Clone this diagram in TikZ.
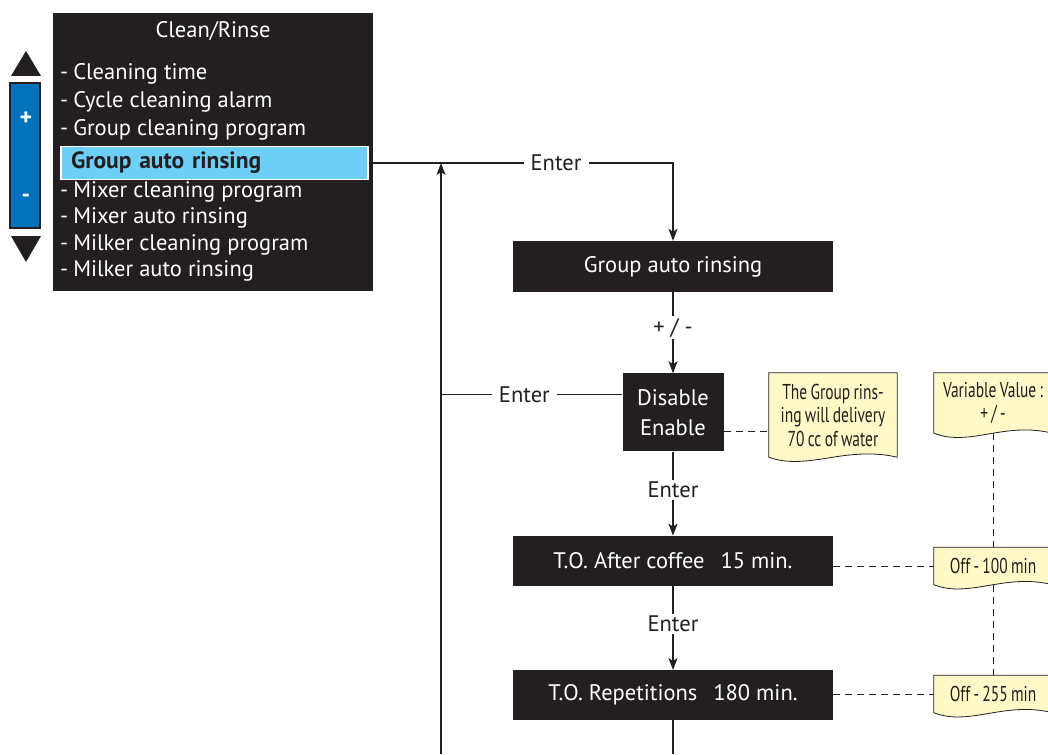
\documentclass[tikz,border=0pt]{standalone}
\usepackage{fontspec}
\setmainfont{PT Sans}
\newfontfamily\notefont{PT Sans}[FakeStretch=0.72, WordSpace=0.8]
\usetikzlibrary{arrows.meta, positioning, calc, backgrounds}
\definecolor{panel}{HTML}{231F20}
\definecolor{barblue}{HTML}{0072BC}
\definecolor{selblue}{HTML}{6DCFF6}
\definecolor{notefill}{HTML}{FFF9C8}

\begin{document}
\begin{tikzpicture}[x=1pt, y=-1pt,
    screen/.style={rectangle, fill=panel, text=white, align=center, inner sep=0pt,
                   font=\fontsize{22.5}{26}\selectfont},
    item/.style={anchor=west, text=white, inner sep=0pt, font=\fontsize{22.5}{26}\selectfont},
    memo/.style={minimum width=118pt, inner sep=0pt, align=center, text=panel,
                 font=\notefont\fontsize{21.5}{23.5}\selectfont},
    lbl/.style={fill=white, inner xsep=7pt, inner ysep=2pt, text=panel,
                font=\fontsize{22.5}{26}\selectfont},
    lnk/.style={panel, line width=1.1pt},
    arr/.style={-{Stealth[length=12pt, width=9pt, inset=3pt]}, panel, line width=1.1pt},
    dsh/.style={panel, line width=0.9pt, dash pattern=on 7pt off 5pt}
  ]
  \useasboundingbox (0,0) rectangle (1048,754);

  % menu screen
  \node[screen, minimum width=320pt, minimum height=278pt] (menu) at (213,152) {};
  \node[screen] (title) at (213,31) {Clean/Rinse};
  \foreach \y/\t [count=\i] in {74/Cleaning time, 102/Cycle cleaning alarm,
      130/Group cleaning program, 192/Mixer cleaning program, 218/Mixer auto rinsing,
      245/Milker cleaning program, 271/Milker auto rinsing}
    \node[item] (it\i) at (60,\y) {-\hspace{5pt}\t};
  \node[rectangle, fill=selblue, draw=white, line width=1.5pt, minimum height=33pt,
        text width=287pt, inner xsep=10pt, inner ysep=0pt, align=left, text=panel,
        font=\bfseries\fontsize{23.5}{26}\selectfont] (hilite) at (214.5,163) {Group auto rinsing};

  % scroll buttons
  \fill[panel] (11,76) -- (41,76) -- (26,51) -- cycle;
  \fill[panel] (11,236) -- (41,236) -- (26,262) -- cycle;
  \node[rectangle, fill=barblue, draw=panel, line width=2pt, minimum width=30pt,
        minimum height=145pt] (bar) at (25,155.5) {};
  \node[text=white, font=\bfseries\fontsize{24}{26}\selectfont] (plus) at (26,119) {+};
  \node[text=white, font=\bfseries\fontsize{24}{26}\selectfont] (minus) at (26,198) {-};

  % settings
  \node[screen, minimum width=320pt, minimum height=51pt] (grp) at (673,266.5) {Group auto rinsing};
  \node[screen, minimum width=101pt, minimum height=78pt, below=81pt of grp] (dis) {Disable\\[4pt]Enable};
  \node[screen, minimum width=320pt, minimum height=50pt, below=84pt of dis] (aft) {T.O. After coffee\hspace{16pt}15 min.};
  \node[screen, minimum width=320pt, minimum height=50pt, below=84pt of aft] (rep) {T.O. Repetitions\hspace{16pt}180 min.};

  % notes
  \node[memo, minimum width=128pt, minimum height=84pt] (note1) at (833,415)
    {The Group rins-\\ing will delivery\\70 cc of water};
  \node[memo, minimum height=60pt] (note2) at (993,403) {Variable Value :\\+ / -};
  \node[memo, minimum height=37pt] (rng1) at (993,566) {Off - 100 min};
  \node[memo, minimum height=37pt] (rng2) at (993,694) {Off - 255 min};
  \begin{scope}[on background layer]
    \foreach \n in {note1, note2, rng1, rng2}
      \draw[panel, line width=0.8pt, fill=notefill] (\n.north west) -- (\n.north east) -- (\n.south east)
        .. controls ($(\n.south west)!0.6!(\n.south east)+(0,-12)$)
        and ($(\n.south west)!0.3!(\n.south east)+(0,14)$) .. (\n.south west) -- cycle;
  \end{scope}

  % flow
  \coordinate (back) at (441,754);
  \coordinate (tail) at (673,754);
  \coordinate (disin) at ([yshift=18pt]dis.west);
  \coordinate (disout) at ([yshift=-19pt]dis.east);
  \draw[arr] (menu.east |- hilite) -- node[lbl, pos=0.61] (e1) {Enter} (grp.north |- hilite) -- (grp.north);
  \draw[arr] (back) -- (back |- hilite);
  \draw[lnk] (back |- disin) -- node[lbl, pos=0.46] (e2) {Enter} (disin);
  \draw[arr] (grp) -- node[lbl, pos=0.44] (pm) {+ / -} (dis);
  \draw[arr] (dis) -- node[lbl, pos=0.46] (e3) {Enter} (aft);
  \draw[arr] (aft) -- node[lbl, pos=0.45] (e4) {Enter} (rep);
  \draw[lnk] (rep) -- (tail);

  % dashed links to the notes
  \draw[dsh] (disout) -- (disout -| note1.west);
  \draw[dsh] (aft.east |- rng1) -- (rng1);
  \draw[dsh] (rep.east |- rng2) -- (rng2);
  \draw[dsh] (note2.south) -- (rng1);
  \draw[dsh] (rng1) -- (rng2);
\end{tikzpicture}
\end{document}
